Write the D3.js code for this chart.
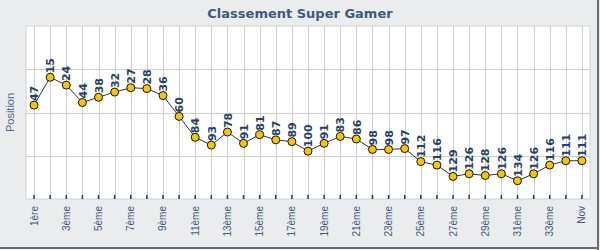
<!DOCTYPE html>
<html>
<head>
<meta charset="utf-8">
<script src="https://cdn.jsdelivr.net/npm/d3@7"></script>
<style>
  body { margin: 0; background: #fff; }
  svg { display: block; font-family: "DejaVu Sans", sans-serif; }
</style>
</head>
<body>
<div id="chart"></div>
<script>
// ranking per round, lower is better
const positions = [47, 15, 24, 44, 38, 32, 27, 28, 36, 60, 84, 93, 78, 91, 81, 87, 89, 100,
  91, 83, 86, 98, 98, 97, 112, 116, 129, 126, 128, 126, 134, 126, 116, 111, 111];
const rounds = positions.map((d, i) => i === positions.length - 1 ? 'Nov' : (i === 0 ? '1ère' : `${i + 1}ème`));
const yDomain = [-44, 155];

const width = 600;
const height = 250;
const margin = { top: 26, right: 10, bottom: 51, left: 26 };
const innerWidth = width - margin.left - margin.right;
const innerHeight = height - margin.top - margin.bottom;

const svg = d3.select('#chart')
  .append('svg')
  .attr('width', width)
  .attr('height', height);

// frame
svg.append('rect')
  .attr('width', width).attr('height', height)
  .attr('fill', '#ebeced');
svg.append('rect')
  .attr('x', width - 3).attr('width', 2).attr('height', height)
  .attr('fill', '#6b6b6b');
svg.append('rect')
  .attr('y', height - 3).attr('width', width - 1).attr('height', 2)
  .attr('fill', '#6b6b6b');

svg.append('text')
  .attr('x', 300).attr('y', 18)
  .attr('text-anchor', 'middle')
  .attr('font-size', 13).attr('font-weight', 'bold')
  .attr('fill', '#3f5a80')
  .text('Classement Super Gamer');

svg.append('text')
  .attr('transform', `translate(14, ${margin.top + innerHeight / 2}) rotate(-90)`)
  .attr('text-anchor', 'middle')
  .attr('font-size', 11)
  .attr('font-family', '"Liberation Sans", Arial, sans-serif')
  .attr('fill', '#4a6a96')
  .text('Position');

const g = svg.append('g')
  .attr('transform', `translate(${margin.left}, ${margin.top})`);

const scaleX = d3.scaleBand().domain(rounds).range([0, innerWidth]);
const scaleY = d3.scaleLinear().domain(yDomain).range([0, innerHeight]);
const cx = d => scaleX(d) + scaleX.bandwidth() / 2;

g.append('rect')
  .attr('width', innerWidth).attr('height', innerHeight)
  .attr('fill', '#fff').attr('stroke', '#cfcfcf');

const gridY = d3.range(1, 4).map(i => yDomain[0] + i * (yDomain[1] - yDomain[0]) / 4);
g.selectAll('.grid-y').data(gridY).enter().append('line')
  .attr('x1', 0).attr('x2', innerWidth)
  .attr('y1', d => Math.round(scaleY(d)) + 0.5).attr('y2', d => Math.round(scaleY(d)) + 0.5)
  .attr('stroke', '#cfcfcf');

g.selectAll('.grid-x').data(rounds).enter().append('line')
  .attr('x1', d => Math.round(cx(d)) + 0.5).attr('x2', d => Math.round(cx(d)) + 0.5)
  .attr('y1', 0).attr('y2', innerHeight)
  .attr('stroke', '#cfcfcf');

// x axis: small ticks inside, every other label
const xAxis = d3.axisBottom(scaleX)
  .tickSize(-4)
  .tickFormat((d, i) => (i % 2 === 0 || i === rounds.length - 1) ? d : '');

const axisG = g.append('g')
  .attr('transform', `translate(0, ${innerHeight})`)
  .call(xAxis);
axisG.select('.domain').remove();
axisG.selectAll('.tick line').attr('stroke', '#1f3a66').attr('stroke-width', 1.5);
axisG.selectAll('.tick text')
  .attr('transform', 'rotate(-90)')
  .attr('x', -7).attr('y', 0).attr('dy', '0.35em')
  .attr('text-anchor', 'end')
  .attr('font-size', 10)
  .attr('font-family', '"Liberation Sans", Arial, sans-serif')
  .attr('fill', '#3d5a85');

const line = d3.line()
  .x((d, i) => cx(rounds[i]))
  .y(d => scaleY(d));

g.append('path')
  .datum(positions)
  .attr('d', line)
  .attr('fill', 'none')
  .attr('stroke', '#333')
  .attr('stroke-width', 1);

g.selectAll('.dot').data(positions).enter().append('circle')
  .attr('cx', (d, i) => cx(rounds[i]))
  .attr('cy', d => scaleY(d))
  .attr('r', 4)
  .attr('fill', '#f7c600')
  .attr('stroke', '#111')
  .attr('stroke-width', 1);

g.selectAll('.value').data(positions).enter().append('text')
  .attr('transform', (d, i) => `translate(${cx(rounds[i])}, ${scaleY(d) - 4}) rotate(-90)`)
  .attr('dy', '0.38em')
  .attr('font-size', 11).attr('font-weight', 'bold')
  .attr('fill', '#263f6a')
  .text(d => d);
</script>
</body>
</html>
